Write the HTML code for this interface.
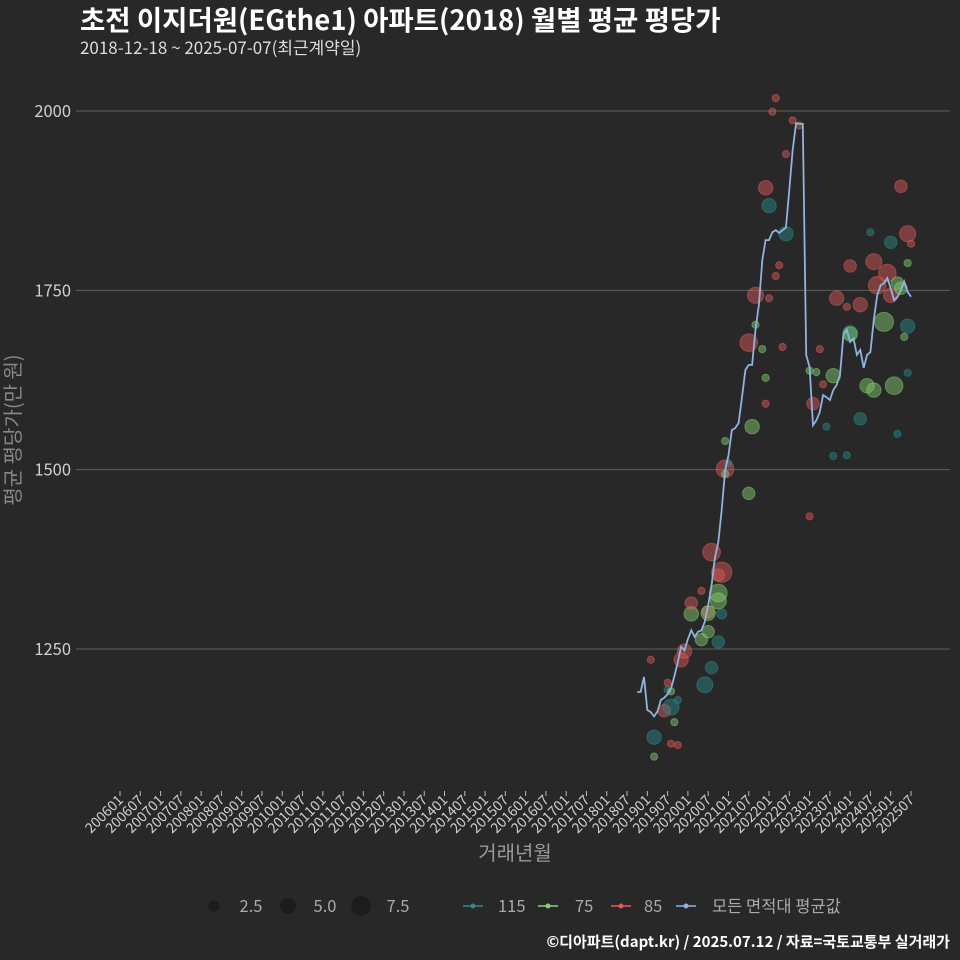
<!DOCTYPE html>
<html><head><meta charset="utf-8"><style>
html,body{margin:0;padding:0;background:#282828;}
svg{display:block;font-family:"Noto Sans CJK KR","Liberation Sans",sans-serif;}
</style></head><body>
<svg id="chart" width="960" height="960" viewBox="0 0 960 960">
<rect width="960" height="960" fill="#282828"/>
<text x="80" y="30" fill="#ffffff" font-size="27.5" font-weight="bold">초전 이지더원(EGthe1) 아파트(2018) 월별 평균 평당가</text>
<text x="80" y="54" fill="#dddddd" font-size="17">2018-12-18 ~ 2025-07-07(최근계약일)</text>
<g id="grid"></g><g id="xaxis"></g><g id="bubbles"></g><g id="line"></g>
<text x="515" y="860" fill="#999" font-size="20" text-anchor="middle">거래년월</text>
<text transform="translate(20,430) rotate(-90)" fill="#888" font-size="20" text-anchor="middle">평균 평당가(만 원)</text>
<g id="legend"></g>
<text x="950" y="947" fill="#ffffff" font-size="15" font-weight="bold" text-anchor="end">©디아파트(dapt.kr) / 2025.07.12 / 자료=국토교통부 실거래가</text>
</svg>
<script>
const yTicks=[1250,1500,1750,2000];
const lineStart="2018-10";
const lineValues=[1190,1190,1211,1165,1162,1156,1163,1179,1182,1187,1195,1212,1232,1253,1248,1264,1276,1267,1274,1276,1288,1311,1339,1377,1399,1444,1499,1520,1555,1558,1565,1601,1639,1646,1646,1695,1730,1792,1820,1820,1831,1834,1830,1834,1837,1890,1946,1983,1982,1982,1660,1643,1562,1569,1580,1604,1601,1597,1611,1618,1632,1688,1695,1678,1683,1660,1667,1642,1660,1664,1709,1743,1757,1760,1767,1753,1736,1741,1750,1762,1748,1741];
const bubbleDates=["2019-03","2019-03","2019-06","2019-08","2019-08","2019-07","2019-07","2019-09","2019-10","2019-02","2019-08","2019-10","2019-11","2019-12","2020-02","2020-02","2020-05","2020-06","2020-08","2020-05","2020-07","2020-07","2020-07","2020-10","2020-10","2020-10","2020-10","2020-08","2020-11","2020-11","2020-12","2020-12","2021-01","2020-12","2021-07","2021-08","2021-07","2021-09","2021-09","2021-11","2021-12","2021-12","2021-12","2022-01","2022-01","2022-03","2022-04","2022-05","2022-06","2022-06","2022-08","2022-10","2022-02","2022-03","2023-01","2023-01","2023-02","2023-04","2023-03","2023-05","2023-06","2023-08","2023-08","2023-12","2023-09","2023-12","2024-01","2024-01","2024-01","2024-04","2024-04","2024-06","2024-08","2024-07","2024-08","2024-09","2024-12","2024-11","2025-01","2025-03","2025-04","2025-01","2025-04","2025-02","2025-06","2025-06","2025-05","2025-07","2025-06","2025-03","2025-06"];
const bubbleValues=[1127,1100,1164,1118,1169,1193,1203,1148,1116,1235,1191,1179,1235,1247,1299,1314,1331,1200,1224,1263,1274,1302,1300,1260,1317,1353,1328,1385,1357,1299,1501,1494,1509,1540,1467,1560,1677,1743,1702,1668,1592,1628,1893,1868,1739,1770,1785,1671,1940,1829,1987,1980,1999,2018,1435,1638,1592,1668,1636,1619,1560,1519,1631,1520,1739,1727,1784,1691,1689,1730,1571,1617,1611,1831,1790,1757,1774,1706,1743,1760,1753,1817,1895,1617,1700,1829,1685,1815,1788,1550,1635];
const bubbleCounts=[4,1,3,1,5,1,1,1,1,1,1,1,4,4,4,3,1,5,3,3,3,3,4,3,5,3,6,6,8,2,6,1,1,1,3,4,6,5,1,1,1,1,4,4,1,1,1,1,1,4,1,1,1,1,1,1,3,1,1,1,1,1,4,1,4,1,3,4,4,4,3,4,4,1,5,6,6,7,4,3,3,3,3,6,4,5,1,1,1,1,1];
const bubbleTypes=["115","75","85","85","115","115","85","75","85","85","75","115","85","85","75","85","85","115","115","75","75","85","75","115","75","85","75","85","85","115","85","75","115","75","75","75","85","85","75","75","85","75","85","115","85","85","85","85","85","115","85","85","85","85","85","75","85","85","75","85","115","115","75","115","85","85","85","115","75","85","115","75","75","115","85","85","85","75","85","75","75","115","85","75","115","85","75","85","75","115","115"];
const xTickStart="2006-01", xTickEnd="2025-07";
const colors={"115":"#2a8c8a","75":"#86d270","85":"#e25a5a"};
const ns="http://www.w3.org/2000/svg";
function mk(t,a,p){const e=document.createElementNS(ns,t);for(const k in a)e.setAttribute(k,a[k]);p.appendChild(e);return e;}
function mIdx(s){const [y,m]=s.split("-").map(Number);return (y-2006)*12+(m-1);}
const x0=120,pxPerMonth=(911-120)/mIdx(xTickEnd);
function X(s){return x0+mIdx(s)*pxPerMonth;}
function Xi(i){return x0+i*pxPerMonth;}
function Y(v){return 111+(2000-v)*(649-111)/750;}
function idxToStr(i){const y=2006+Math.floor(i/12),m=i%12+1;return y+""+(m<10?"0"+m:m);}
const grid=document.getElementById("grid");
yTicks.forEach(v=>{
 const l=mk("line",{x1:76,x2:950,y1:Y(v),y2:Y(v),stroke:"#5e5e5e","stroke-width":1},grid);
 
 
 const t=mk("text",{x:71,y:Y(v)+6,fill:"#d0d0d0","font-size":16.5,"text-anchor":"end"},grid);
 t.textContent=v;
 
 
});
const xa=document.getElementById("xaxis");
for(let i=mIdx(xTickStart);i<=mIdx(xTickEnd);i+=6){
 const x=Xi(i);
 const tk=mk("line",{x1:x,x2:x,y1:791,y2:796,stroke:"#bbb","stroke-width":1},xa);
 
 
 const t=mk("text",{transform:`translate(${x+4},${801}) rotate(-45)`,fill:"#d0d0d0","font-size":14,"text-anchor":"end"},xa);
 t.textContent=idxToStr(i);
 
 
}
const bg=document.getElementById("bubbles");
bubbleDates.forEach((d,i)=>{
 const c=mk("circle",{cx:X(d),cy:Y(bubbleValues[i]),r:3.6*Math.sqrt(bubbleCounts[i]),fill:colors[bubbleTypes[i]],"fill-opacity":0.45,stroke:colors[bubbleTypes[i]],"stroke-opacity":0.5},bg);
 
 
});
const s0=mIdx(lineStart);
const pts=lineValues.map((v,i)=>Xi(s0+i).toFixed(1)+","+Y(v).toFixed(1)).join(" ");
const pl=mk("polyline",{points:pts,fill:"none",stroke:"#8fb4e0","stroke-width":1.8},document.getElementById("line"));


const lg=document.getElementById("legend");
[[2.5,214,251],[5.0,288,325],[7.5,361,398]].forEach(([v,cx,tx])=>{
 const c=mk("circle",{cx:cx,cy:906,r:3.6*Math.sqrt(v),fill:"#1c1c1c"},lg);
 
 
 const t=mk("text",{x:tx,y:912,fill:"#aaa","font-size":16.5,"text-anchor":"middle"},lg);
 t.textContent=v.toFixed(1);
 
 
});
[["115",colors["115"],473,498],["75",colors["75"],548,575],["85",colors["85"],621,644],["모든 면적대 평균값","#8fb4e0",686,712]].forEach(([lab,col,cx,tx])=>{
 const l=mk("line",{x1:cx-10,x2:cx+10,y1:906,y2:906,stroke:col,"stroke-width":1.5},lg);
 
 
 const c=mk("circle",{cx:cx,cy:906,r:2.5,fill:col},lg);
 
 
 const t=mk("text",{x:tx,y:912,fill:"#aaa","font-size":16.5},lg);
 t.textContent=lab;
 
 
});
</script>
</body></html>
